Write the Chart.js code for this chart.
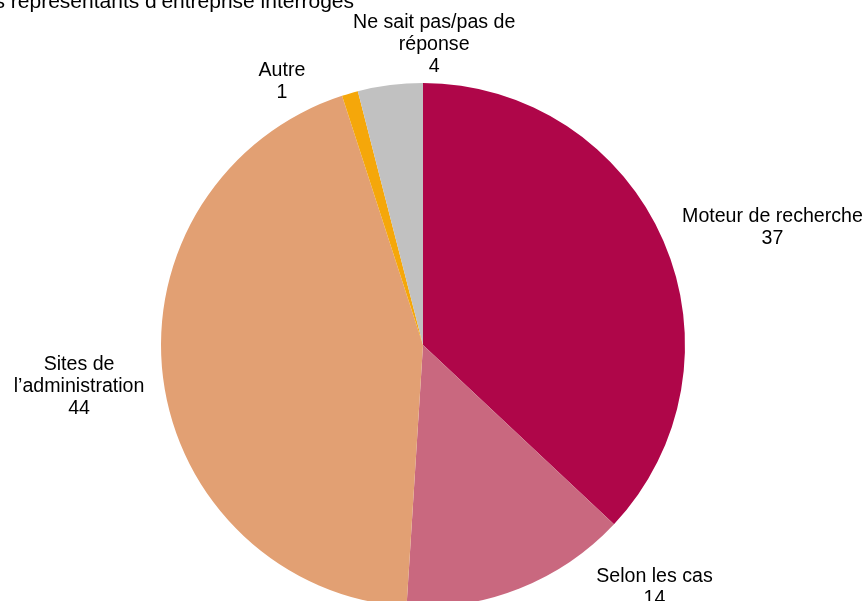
<!DOCTYPE html>
<html>
<head>
<meta charset="utf-8">
<script src="https://cdn.jsdelivr.net/npm/chart.js@4.4.0/dist/chart.umd.min.js"></script>
<style>
  html, body { margin: 0; padding: 0; background: #fff; overflow: hidden; }
  #wrap { position: relative; width: 867px; height: 640px; }
</style>
</head>
<body>
<div id="wrap"><canvas id="pie"></canvas></div>
<script>
// data
const categories = ["Moteur de recherche", "Selon les cas", "Sites de l\u2019administration", "Autre", "Ne sait pas/pas de réponse"];
const labelLines = [
  ["Moteur de recherche"],
  ["Selon les cas"],
  ["Sites de", "l\u2019administration"],
  ["Autre"],
  ["Ne sait pas/pas de", "réponse"]
];
const values = [37, 14, 44, 1, 4];
const colors = ["#AF0649", "#C9687F", "#E2A073", "#F5A70A", "#C1C1C1"];
const titleText = "des représentants d\u2019entreprise interrogés";

// label nudges from the slice edge (px)
const labelOffsets = [[109, -13], [135, -1], [-84, 9], [-68, -12], [44, -40]];

const FONT = "19.6px 'Liberation Sans', Arial, sans-serif";

const labelPlugin = {
  id: "outerLabels",
  afterDatasetsDraw(chart) {
    const ctx = chart.ctx;
    const arcs = chart.getDatasetMeta(0).data;
    ctx.save();
    ctx.font = FONT;
    ctx.fillStyle = "#000";
    ctx.textAlign = "center";
    ctx.textBaseline = "middle";
    const lh = 22;
    arcs.forEach((arc, i) => {
      const p = arc.getProps(["x", "y", "startAngle", "endAngle", "outerRadius"], true);
      const mid = (p.startAngle + p.endAngle) / 2;
      const ex = p.x + Math.cos(mid) * p.outerRadius;
      const ey = p.y + Math.sin(mid) * p.outerRadius;
      const cx = ex + labelOffsets[i][0];
      const cy = ey + labelOffsets[i][1];
      const lines = labelLines[i].concat([String(values[i])]);
      const top = cy - (lines.length - 1) * lh / 2;
      lines.forEach((t, j) => ctx.fillText(t, cx, top + j * lh));
    });
    // title, cut off at top-left like the source
    ctx.textAlign = "right";
    ctx.textBaseline = "alphabetic";
    ctx.font = "21px 'Liberation Sans', Arial, sans-serif";
    ctx.fillText(titleText, 354, 8);
    ctx.restore();
  }
};

new Chart(document.getElementById("pie"), {
  type: "pie",
  data: {
    labels: categories,
    datasets: [{
      data: values,
      backgroundColor: colors,
      borderWidth: 0
    }]
  },
  options: {
    responsive: true,
    maintainAspectRatio: false,
    animation: false,
    layout: { padding: { left: 161, right: 182, top: 83, bottom: 33 } },
    plugins: {
      legend: { display: false },
      tooltip: { enabled: false }
    }
  },
  plugins: [labelPlugin]
});
</script>
</body>
</html>
